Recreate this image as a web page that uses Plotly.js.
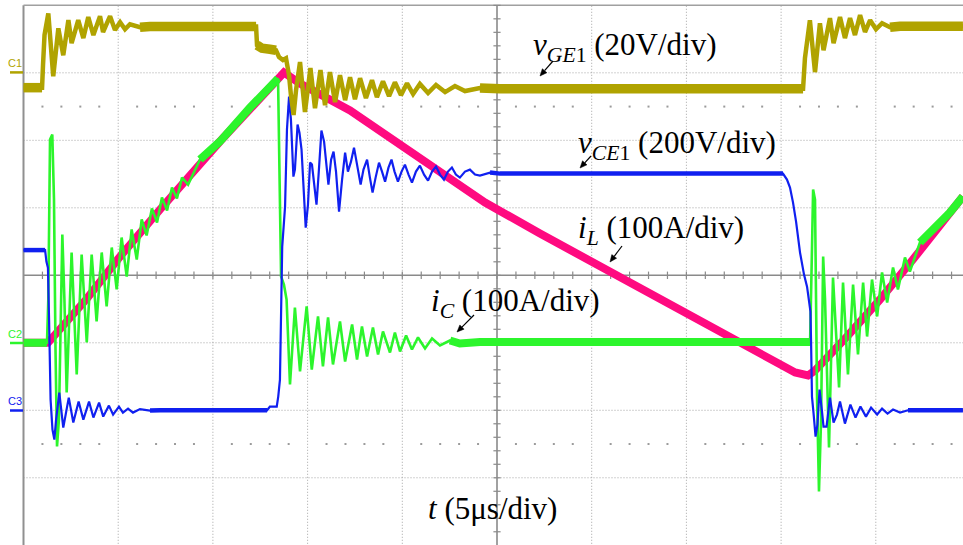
<!DOCTYPE html>
<html><head><meta charset="utf-8">
<script src="https://cdn.plot.ly/plotly-3.0.1.min.js"></script>
<style>html,body{margin:0;padding:0;background:#fff;}#chart{width:963px;height:545px;}</style>
</head><body><div id="chart"></div>
<script>
// ---- DATA (time in µs, 5 µs/div) ----
// v_GE1 in volts (20 V/div)
const vgeT = [0,0.98,1.03,1.11,1.31,1.40,1.57,1.84,2.10,2.37,
  2.54,2.89,3.16,3.42,3.69,4.04,4.20,4.57,4.83,5.10,
  5.36,5.62,6.15,6.68,9.32,12.28,12.33,12.59,13.01,13.33,
  13.49,13.70,13.86,14.02,14.12,14.26,14.39,14.60,14.86,15.15,
  15.39,15.68,15.92,16.18,16.45,16.71,16.98,17.24,17.50,17.77,
  18.08,18.40,18.66,18.98,19.30,19.61,19.93,20.25,20.57,20.93,
  21.36,21.78,22.26,22.78,23.31,24.10,25.16,30.44,35.72,41.16,
  41.26,41.37,41.52,41.79,42.05,42.24,42.58,42.77,43.11,43.37,
  43.64,43.90,44.17,44.43,44.70,45.01,45.33,45.75,46.28,49.60];
const vgeV = [-4.4,-4.4,2.3,11.2,17.6,11.2,-1.0,13.2,5.2,15.6,
  8.8,15.6,10.3,16.5,11.2,16.8,12.1,16.8,12.7,15.0,
  12.9,14.4,13.5,13.7,13.7,13.7,8.2,7.3,7.0,6.7,
  4.7,3.8,4.3,-0.7,-6.6,-12.5,-5.1,3.2,-11.6,1.4,
  -10.5,0.8,-9.6,0.2,-8.7,-0.7,-8.1,-1.3,-7.8,-1.6,
  -7.5,-2.2,-7.2,-2.5,-6.9,-2.8,-6.6,-3.1,-6.3,-3.3,
  -6.0,-3.6,-5.7,-3.9,-5.4,-4.5,-4.7,-4.7,-4.7,-4.7,
  4.4,9.7,15.6,0.2,14.7,6.7,16.2,8.8,16.5,10.3,
  16.2,11.2,17.1,12.1,15.6,12.9,14.7,13.5,13.8,13.8];

// v_CE1 in volts (200 V/div)
const vceT = [0,1.14,1.21,1.29,1.35,1.43,1.53,1.63,1.72,1.89,
  2.10,2.39,2.63,2.91,3.16,3.46,3.69,3.99,4.21,4.51,
  4.73,5.04,5.25,5.52,5.78,6.15,6.68,7.21,12.86,13.01,
  13.37,13.45,13.54,13.66,13.81,13.91,14.02,14.12,14.25,14.33,
  14.47,14.57,14.68,14.78,14.90,15.02,15.13,15.23,15.36,15.47,
  15.58,15.73,15.87,16.00,16.10,16.24,16.37,16.50,16.66,16.82,
  16.98,17.13,17.29,17.45,17.64,17.80,17.95,18.14,18.29,18.43,
  18.59,18.77,18.93,19.09,19.27,19.43,19.59,19.77,19.96,20.14,
  20.33,20.51,20.72,20.93,21.15,21.36,21.57,21.78,21.99,22.20,
  22.41,22.62,22.83,23.04,23.31,23.57,23.84,24.10,24.63,25.16,
  35.72,40.10,40.31,40.47,40.63,40.79,41.00,41.21,41.37,41.48,
  41.55,41.58,41.63,41.71,41.82,41.92,42.03,42.16,42.24,42.40,
  42.58,42.77,42.95,43.11,43.37,43.66,43.93,44.19,44.48,44.75,
  45.07,45.33,45.62,45.91,46.28,46.70,49.60];
const vceV = [474.7,474.7,440.6,422.8,268.7,31.7,-57.2,-86.8,-27.6,52.4,
  -51.3,37.6,-36.4,25.8,-27.6,25.8,-21.6,22.8,-18.7,13.9,
  -12.7,11.0,-6.8,5.0,-6.8,3.6,-0.9,0,0,11.0,
  11.0,40.6,91.0,485.0,603.6,831.7,929.5,861.4,692.5,713.2,
  846.5,822.8,772.5,653.9,541.3,609.5,733.9,728.0,668.8,609.5,
  698.4,828.8,796.2,728.0,668.8,742.8,766.5,707.3,588.8,683.6,
  763.6,707.3,736.9,778.4,719.1,668.8,713.2,742.8,689.5,645.0,
  689.5,733.9,707.3,677.6,719.1,742.8,707.3,677.6,707.3,728.0,
  698.4,674.7,707.3,725.1,698.4,680.6,707.3,722.1,698.4,683.6,
  707.3,719.2,698.4,689.5,707.3,713.2,698.4,695.4,704.3,701.3,
  701.3,701.3,683.6,659.9,615.4,559.1,467.3,402.1,366.5,313.2,
  292.4,209.4,40.6,-6.8,-77.9,-42.4,61.3,-3.9,-48.3,-48.3,
  37.6,-36.4,-12.7,25.8,-39.4,16.9,-21.6,11.0,-18.7,8.0,
  -12.7,5.0,-9.8,2.1,-6.8,0,0];

// i_L in amperes (100 A/div)
const ilT = [0,1.29,3.35,5.10,7.21,10.37,13.75,14.60,17.24,19.88,
  21.99,24.37,27.27,30.07,32.55,35.72,38.36,39.95,40.74,41.42,
  41.79,43.48,45.22,46.96,48.75,49.60];
const ilA = [0,0,65.6,127.9,197.5,298.2,400.4,384.2,344.2,293.8,
  252.3,207.9,161.9,119.0,79.0,33.0,-8.4,-33.6,-44.0,-48.4,
  -41.0,9.3,64.1,123.4,187.1,216.7];

// i_C in amperes (100 A/div)
const icT = [0,1.24,1.31,1.40,1.52,1.61,1.69,1.77,1.87,2.05,
  2.16,2.28,2.54,2.81,3.07,3.34,3.60,3.86,4.13,4.39,
  4.66,4.92,5.18,5.45,5.71,5.98,6.24,6.50,6.78,7.05,
  7.31,7.58,7.84,8.10,8.37,8.69,9.32,10.37,11.96,13.44,
  13.60,13.75,13.89,14.07,14.33,14.60,14.95,15.22,15.55,15.81,
  16.08,16.34,16.71,16.98,17.35,17.61,17.87,18.14,18.45,18.72,
  18.98,19.35,19.61,19.88,20.20,20.51,20.83,21.20,21.57,21.99,
  22.52,23.04,24.10,30.44,41.53,41.63,41.69,41.79,41.90,42.00,
  42.11,42.22,42.32,42.53,42.74,43.06,43.27,43.53,43.80,44.06,
  44.33,44.54,44.80,45.07,45.33,45.60,45.91,46.17,46.54,46.80,
  47.33,48.12,48.91,49.60];
const icA = [0,0,64.1,301.0,308.6,212.3,-9.9,-153.6,-113.6,160.4,
  64.1,-73.6,133.8,-47.0,130.8,0.4,130.8,31.6,133.8,53.8,
  141.2,79.0,156.0,98.2,167.9,123.4,182.7,159.0,199.0,178.2,
  215.3,196.0,230.1,213.8,244.9,234.5,271.6,298.2,348.6,391.6,
  98.2,86.4,64.1,-61.8,52.3,-42.5,53.8,-39.6,39.0,-35.0,
  37.5,-32.1,31.6,-27.7,27.1,-24.7,24.1,-20.3,22.7,-17.3,
  16.7,-14.4,15.3,-12.9,10.8,-9.9,7.9,-8.4,6.4,-4.0,
  3.4,-1.0,1.2,1.2,1.2,138.2,227.1,212.3,-84.0,-220.3,
  -113.6,127.9,64.1,-155.1,96.7,-66.2,89.3,-47.0,86.4,-17.3,
  89.3,9.3,93.8,39.0,104.2,59.7,111.6,79.0,126.4,105.6,
  148.6,170.8,193.0,216.7];

// ---- screen mapping / styles ----
const W = 963, H = 545;
const XR = [-1.2408, 49.604], YR = [-3.996, 4.079];
const CH = {
  vge: {off: 3, scale: 20, color: '#b0a300'},
  vce: {off: -2, scale: 200, color: '#1020f0'},
  il:  {off: -1, scale: 100, color: '#ff0a80'},
  ic:  {off: -1, scale: 100, color: '#2cf52c'}
};
function toDiv(arr, ch){ return arr.map(v => ch.off + v / ch.scale); }
function windows(t, y, wins){
  const xs = [], ys = [];
  wins.forEach(w => {
    t.forEach((v, i) => { if (v >= w[0] - 1e-9 && v <= w[1] + 1e-9){ xs.push(v); ys.push(y[i]); } });
    xs.push(null); ys.push(null);
  });
  return {xs, ys};
}
function line(x, y, color, width){
  return {type: 'scatter', mode: 'lines', x: x, y: y, line: {color: color, width: width}, hoverinfo: 'skip', connectgaps: false};
}

const traces = [];
// center-axis minor ticks and marker dots
const tkx = [], tky = [];
for (let k = 1; k < 50; k++){ tkx.push(k, k, null); tky.push(-0.055, 0.055, null); }
for (let k = -19; k <= 20; k++){ const yy = k * 0.2; tkx.push(24.81, 25.19, null); tky.push(yy, yy, null); }
traces.push(line(tkx, tky, '#8a8a8a', 1.2));
const dx = [], dy = [];
for (let k = 1; k < 50; k++){ if (k % 5 !== 0){ dx.push(k, k); dy.push(2.5, -2.5); } }
traces.push({type: 'scatter', mode: 'markers', x: dx, y: dy, marker: {symbol: 'square', size: 2, color: '#9a9a9a'}, hoverinfo: 'skip'});

// i_L
const ilY = toDiv(ilA, CH.il);
traces.push(line(ilT, ilY, CH.il.color, 8));
// i_C
const icY = toDiv(icA, CH.ic);
traces.push(line(icT, icY, CH.ic.color, 2.6));
let w = windows(icT, icY, [[0,1.24],[9.32,13.44],[22.52,41.53],[47.33,49.6]]);
traces.push(line(w.xs, w.ys, CH.ic.color, 8));
// v_CE
const vceY = toDiv(vceV, CH.vce);
traces.push(line(vceT, vceY, CH.vce.color, 2.2));
w = windows(vceT, vceY, [[0,1.14],[6.68,12.86],[24.63,40.10],[46.70,49.6]]);
traces.push(line(w.xs, w.ys, CH.vce.color, 4.5));
// v_GE
const vgeY = toDiv(vgeV, CH.vge);
traces.push(line(vgeT, vgeY, CH.vge.color, 4.5));
w = windows(vgeT, vgeY, [[0,0.98],[6.15,12.28],[12.33,13.33],[24.10,41.16],[45.75,49.6]]);
traces.push(line(w.xs, w.ys, CH.vge.color, 9.5));

// grid shapes
const shapes = [];
const dotLine = {color: '#a4a4a4', width: 1, dash: '1px,2px'};
for (let k = 1; k <= 9; k++){ if (k !== 5) shapes.push({type: 'line', layer: 'below', xref: 'x', yref: 'y', x0: 5*k, x1: 5*k, y0: -4.2, y1: 4, line: dotLine}); }
for (let k = -3; k <= 3; k++){ if (k !== 0) shapes.push({type: 'line', layer: 'below', xref: 'x', yref: 'y', x0: 0, x1: 52, y0: k, y1: k, line: dotLine}); }
const solid = {color: '#8a8a8a', width: 1.6};
shapes.push({type: 'line', layer: 'below', x0: 25, x1: 25, y0: -4.2, y1: 4, line: solid});
shapes.push({type: 'line', layer: 'below', x0: 0, x1: 52, y0: 0, y1: 0, line: solid});
shapes.push({type: 'line', layer: 'below', x0: 0, x1: 0, y0: -4.2, y1: 4, line: {color: '#909090', width: 2}});
shapes.push({type: 'line', layer: 'below', x0: 0, x1: 52, y0: 4, y1: 4, line: {color: '#a0a0a0', width: 1.5}});
// channel ground markers
function px(p){ return p / W; } function py(p){ return 1 - p / H; }
[[72.4, CH.vge.color],[343, CH.ic.color],[410.5, CH.vce.color]].forEach(m => {
  shapes.push({type: 'line', xref: 'paper', yref: 'paper', x0: px(10), x1: px(23), y0: py(m[0]), y1: py(m[0]), line: {color: m[1], width: 2.5}});
});
// label pointer arrows (head x, head y, tail x, tail y) in pixels
[[540,76,553,61],[580,168,591,156],[610,262,622,246],[457,332,474,315]].forEach(a => {
  const hx = a[0], hy = a[1], tx = a[2], ty = a[3];
  const L = Math.hypot(hx - tx, hy - ty), ux = (hx - tx) / L, uy = (hy - ty) / L;
  const bx = hx - ux * 7, by = hy - uy * 7, nx = -uy * 3, ny = ux * 3;
  shapes.push({type: 'line', xref: 'paper', yref: 'paper', x0: px(tx), y0: py(ty), x1: px(bx), y1: py(by), line: {color: '#000', width: 1.2}});
  shapes.push({type: 'path', xref: 'paper', yref: 'paper',
    path: 'M ' + px(hx) + ' ' + py(hy) + ' L ' + px(bx + nx) + ' ' + py(by + ny) + ' L ' + px(bx - nx) + ' ' + py(by - ny) + ' Z',
    fillcolor: '#000', line: {color: '#000', width: 0.5}});
});

const serif = {family: 'Liberation Serif, Times New Roman, serif', size: 31, color: '#000'};
const annotations = [
  {x: px(531), y: py(47), text: '<i>v</i><sub><i>GE</i>1</sub> (20V/div)'},
  {x: px(576), y: py(145), text: '<i>v</i><sub><i>CE</i>1</sub> (200V/div)'},
  {x: px(576), y: py(230), text: '<i>i</i><sub><i>L</i></sub> (100A/div)'},
  {x: px(429), y: py(303), text: '<i>i</i><sub><i>C</i></sub> (100A/div)'},
  {x: px(426), y: py(508), text: '<i>t</i> (5μs/div)'}
].map(a => Object.assign({xref: 'paper', yref: 'paper', xanchor: 'left', yanchor: 'middle', showarrow: false, font: serif}, a));
const sans = s => ({family: 'Liberation Sans, Arial, sans-serif', size: 11, color: s});
[['C1', 63, CH.vge.color],['C2', 334, CH.ic.color],['C3', 401, CH.vce.color]].forEach(c => {
  annotations.push({xref: 'paper', yref: 'paper', x: px(15), y: py(c[1]), text: c[0], showarrow: false, xanchor: 'center', yanchor: 'middle', font: sans(c[2])});
});

const layout = {
  width: W, height: H, margin: {l: 0, r: 0, t: 0, b: 0},
  paper_bgcolor: '#fff', plot_bgcolor: '#fff', showlegend: false,
  xaxis: {range: XR, visible: false, fixedrange: true},
  yaxis: {range: YR, visible: false, fixedrange: true},
  shapes: shapes, annotations: annotations
};
Plotly.newPlot('chart', traces, layout, {staticPlot: true, displayModeBar: false});
</script></body></html>
